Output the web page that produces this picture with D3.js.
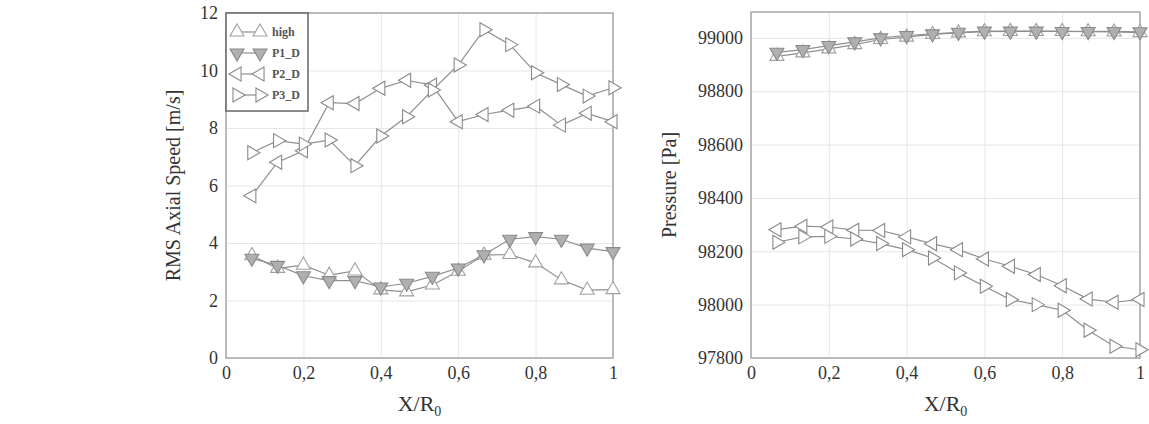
<!DOCTYPE html>
<html>
<head>
<meta charset="utf-8">
<script src="https://cdn.jsdelivr.net/npm/d3@7"></script>
<style>
  body { margin: 0; background: #fff; }
  svg text { font-family: "Liberation Serif", "DejaVu Serif", serif; fill: #333; }
  .grid line { stroke: #e6e6e6; stroke-width: 1; }
  .grid .domain { display: none; }
  .line { fill: none; stroke: #8f8f8f; stroke-width: 1.2; }
</style>
</head>
<body>
<svg width="1149" height="424"></svg>
<script>
// x positions (X/R0)
var xVals = [0.0667, 0.1333, 0.2, 0.2667, 0.3333, 0.4, 0.4667, 0.5333, 0.6, 0.6667, 0.7333, 0.8, 0.8667, 0.9333, 1];

// RMS axial speed [m/s]
var speedHigh = [3.56, 3.12, 3.23, 2.88, 3.03, 2.37, 2.30, 2.54, 3.02, 3.58, 3.60, 3.31, 2.72, 2.36, 2.38];
var speedP1 = [3.47, 3.22, 2.86, 2.69, 2.69, 2.47, 2.60, 2.84, 3.13, 3.59, 4.13, 4.22, 4.13, 3.82, 3.70];
var speedP2 = [5.64, 6.81, 7.21, 8.88, 8.85, 9.38, 9.66, 9.49, 8.22, 8.47, 8.62, 8.76, 8.10, 8.51, 8.22];
var speedP3 = [7.14, 7.56, 7.44, 7.58, 6.69, 7.72, 8.39, 9.32, 10.19, 11.42, 10.90, 9.92, 9.51, 9.11, 9.40];

// pressure [Pa]
var presHigh = [98931, 98944, 98959, 98975, 98994, 99003, 99013, 99019, 99023, 99024, 99024, 99024, 99023, 99022, 99020];
var presP1 = [98946, 98956, 98971, 98985, 99000, 99009, 99015, 99021, 99025, 99025, 99025, 99024, 99024, 99024, 99023];
var presP2 = [98281, 98294, 98291, 98279, 98278, 98254, 98228, 98206, 98171, 98144, 98113, 98071, 98021, 98009, 98019];
var presP3 = [98234, 98254, 98256, 98246, 98229, 98206, 98175, 98119, 98069, 98019, 98000, 97979, 97904, 97844, 97831];

var seriesNames = ["high", "P1_D", "P2_D", "P3_D"];
var xTicks = [0, 0.2, 0.4, 0.6, 0.8, 1];
var speedTicks = [0, 2, 4, 6, 8, 10, 12];
var presTicks = [97800, 98000, 98200, 98400, 98600, 98800, 99000];

// marker look per series
var markStyle = {
  "high": { rot: 0, fill: "#fff", stroke: "#a0a0a0" },
  "P1_D": { rot: 180, fill: "#b0b0b0", stroke: "#8a8a8a" },
  "P2_D": { rot: -90, fill: "#fff", stroke: "#8a8a8a" },
  "P3_D": { rot: 90, fill: "#fff", stroke: "#8a8a8a" }
};

var svg = d3.select("svg");
var tri = d3.symbol().type(d3.symbolTriangle).size(85);
var serif = "'Liberation Serif', 'DejaVu Serif', serif";
var fmtComma = d => String(d).replace(".", ",");

function styleTicks(sel) {
  sel.select(".domain").remove();
  sel.attr("font-family", serif).attr("font-size", 18);
  sel.selectAll(".tick text").attr("fill", "#333");
}

function drawPanel(box, yDomain, yTicks, seriesVals, yLabel, yLabelX, legend) {
  var x = d3.scaleLinear().domain([0, 1]).range([box.left, box.right]);
  var y = d3.scaleLinear().domain(yDomain).range([box.bottom, box.top]);
  var g = svg.append("g");

  // grid
  g.append("g")
    .attr("class", "grid")
    .attr("transform", `translate(0,${box.bottom})`)
    .call(d3.axisBottom(x).tickValues(xTicks).tickSize(-(box.bottom - box.top)).tickFormat(""));
  g.append("g")
    .attr("class", "grid")
    .attr("transform", `translate(${box.left},0)`)
    .call(d3.axisLeft(y).tickValues(yTicks).tickSize(-(box.right - box.left)).tickFormat(""));

  // frame
  g.append("rect")
    .attr("x", box.left).attr("y", box.top)
    .attr("width", box.right - box.left).attr("height", box.bottom - box.top)
    .attr("fill", "none").attr("stroke", "#a8a8a8").attr("stroke-width", 1.5);

  // tick labels
  g.append("g")
    .attr("transform", `translate(0,${box.bottom})`)
    .call(d3.axisBottom(x).tickValues(xTicks).tickSize(0).tickPadding(8).tickFormat(fmtComma))
    .call(styleTicks);
  g.append("g")
    .attr("transform", `translate(${box.left},0)`)
    .call(d3.axisLeft(y).tickValues(yTicks).tickSize(0).tickPadding(8).tickFormat(d3.format("d")))
    .call(styleTicks);

  // axis titles
  var xt = g.append("text")
    .attr("x", (box.left + box.right) / 2)
    .attr("y", 411)
    .attr("text-anchor", "middle")
    .style("font-size", "22px");
  xt.append("tspan").text("X/R");
  xt.append("tspan").attr("dy", 5).style("font-size", "14px").text("0");

  g.append("text")
    .attr("transform", `translate(${yLabelX},${(box.top + box.bottom) / 2}) rotate(-90)`)
    .attr("text-anchor", "middle")
    .style("font-size", "20px")
    .text(yLabel);

  // series
  var line = d3.line().x(d => x(d[0])).y(d => y(d[1]));
  seriesNames.forEach((name, i) => {
    var pts = xVals.map((v, j) => [v, seriesVals[i][j]]);
    var st = markStyle[name];
    g.append("path").datum(pts).attr("class", "line").attr("d", line);
    g.selectAll(".m" + i)
      .data(pts)
      .enter()
      .append("path")
      .attr("class", "m" + i)
      .attr("d", tri)
      .attr("transform", d => `translate(${x(d[0])},${y(d[1])}) rotate(${st.rot})`)
      .attr("fill", st.fill)
      .attr("stroke", st.stroke)
      .attr("stroke-width", 1.1);
  });

  if (legend) {
    var lg = g.append("g");
    lg.append("rect")
      .attr("x", box.left).attr("y", box.top)
      .attr("width", 82).attr("height", 98)
      .attr("fill", "#fff").attr("stroke", "#666").attr("stroke-width", 1.5);
    seriesNames.forEach((name, i) => {
      var cy = box.top + 19 + i * 21;
      var st = markStyle[name];
      lg.append("line")
        .attr("x1", box.left + 11).attr("x2", box.left + 34)
        .attr("y1", cy).attr("y2", cy)
        .attr("stroke", "#8f8f8f").attr("stroke-width", 1.2);
      [box.left + 11, box.left + 34].forEach(cx => {
        lg.append("path")
          .attr("d", tri)
          .attr("transform", `translate(${cx},${cy}) rotate(${st.rot})`)
          .attr("fill", st.fill)
          .attr("stroke", st.stroke)
          .attr("stroke-width", 1.1);
      });
      lg.append("text")
        .attr("x", box.left + 46).attr("y", cy + 4)
        .style("font-size", "12px")
        .style("font-weight", "bold")
        .style("fill", "#555")
        .text(name);
    });
  }
}

drawPanel({ left: 226, right: 613, top: 13, bottom: 358 }, [0, 12], speedTicks,
  [speedHigh, speedP1, speedP2, speedP3], "RMS Axial Speed [m/s]", 180, true);

drawPanel({ left: 751, right: 1140, top: 12, bottom: 358 }, [97800, 99097], presTicks,
  [presHigh, presP1, presP2, presP3], "Pressure [Pa]", 676, false);
</script>
</body>
</html>
